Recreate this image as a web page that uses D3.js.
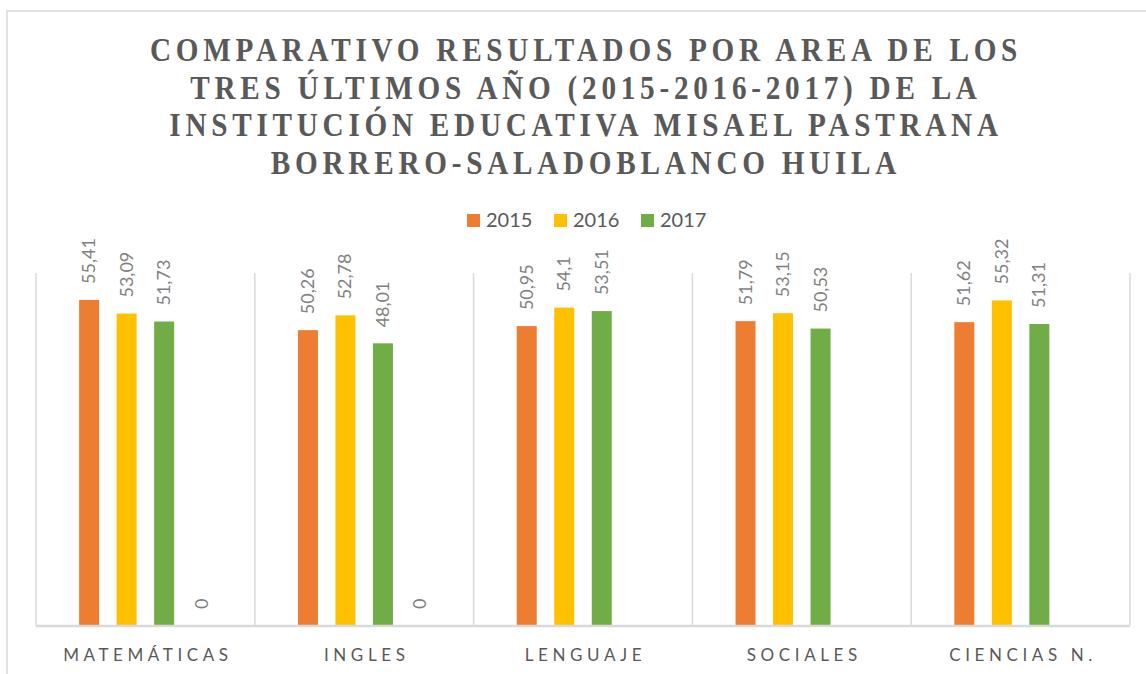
<!DOCTYPE html>
<html lang="es">
<head>
  <meta charset="UTF-8">
  <title>Comparativo resultados por area</title>
  <script src="https://d3js.org/d3.v7.min.js"></script>
  <style>
    body { margin: 0; background: #fff; }
    svg { display: block; }
  </style>
</head>
<body>
  <div id="chart"></div>
  <script>
    // data
    const titleLines = [
      "COMPARATIVO RESULTADOS POR AREA DE LOS",
      "TRES ÚLTIMOS AÑO (2015-2016-2017) DE LA",
      "INSTITUCIÓN EDUCATIVA MISAEL PASTRANA",
      "BORRERO-SALADOBLANCO HUILA"
    ];
    const areas = ["MATEMÁTICAS", "INGLES", "LENGUAJE", "SOCIALES", "CIENCIAS N."];
    const seriesNames = ["2015", "2016", "2017", ""];
    const colors = ["#ED7D31", "#FFC000", "#70AD47", "#5B9BD5"];
    const v2015 = [55.41, 50.26, 50.95, 51.79, 51.62];
    const v2016 = [53.09, 52.78, 54.1, 53.15, 55.32];
    const v2017 = [51.73, 48.01, 53.51, 50.53, 51.31];
    const vBlank = [0, 0, null, null, null];
    const yMax = 60;

    const W = 1146, H = 674;
    const plot = { left: 36, right: 1130, top: 273, bottom: 625 };

    const svg = d3.select("#chart").append("svg").attr("width", W).attr("height", H);
    svg.append("rect").attr("width", W).attr("height", H).attr("fill", "#fff");

    // chart frame (runs past the picture edge on right/bottom)
    svg.append("rect")
      .attr("x", 7).attr("y", 11).attr("width", 1170).attr("height", 700)
      .attr("fill", "none").attr("stroke", "#d9d9d9").attr("stroke-width", 1.5);

    // title
    const title = svg.append("g").attr("transform", "translate(586,0) scale(0.86,1)");
    title.selectAll("text").data(titleLines).enter().append("text")
      .attr("x", 0)
      .attr("y", (d, i) => 61 + i * 37.7)
      .attr("text-anchor", "middle")
      .style("font-family", "'Liberation Serif', 'Times New Roman', serif")
      .style("font-weight", "bold")
      .style("font-size", "34px")
      .style("letter-spacing", "5.5px")
      .attr("fill", "#595959")
      .text(d => d);

    // legend
    const legend = svg.append("g");
    const legendItems = seriesNames.slice(0, 3);
    legendItems.forEach((name, i) => {
      const gx = 467 + i * 87;
      legend.append("rect").attr("x", gx).attr("y", 214).attr("width", 13).attr("height", 13).attr("fill", colors[i]);
      legend.append("text").attr("x", gx + 19).attr("y", 227)
        .style("font-family", "Lato, 'Open Sans', sans-serif").style("font-size", "20px")
        .attr("fill", "#595959").text(name);
    });

    // scales
    const x0 = d3.scaleBand().domain(areas).range([plot.left, plot.right]).padding(0);
    const x1 = d3.scaleBand().domain(seriesNames).range([0, x0.bandwidth()])
      .paddingInner(0.467).paddingOuter(1.15);
    const y = d3.scaleLinear().domain([0, yMax]).range([plot.bottom, plot.top]);

    // category separators
    const bounds = areas.map(a => x0(a)).concat([plot.right]);
    svg.append("g").selectAll("line").data(bounds).enter().append("line")
      .attr("x1", d => d).attr("x2", d => d)
      .attr("y1", plot.top).attr("y2", plot.bottom)
      .attr("stroke", "#d9d9d9").attr("stroke-width", 1.5);

    const seriesValues = [v2015, v2016, v2017, vBlank];
    const rows = [];
    areas.forEach((a, i) => {
      seriesNames.forEach((s, j) => {
        const v = seriesValues[j][i];
        if (v !== null) rows.push({ area: a, key: s, idx: j, value: v });
      });
    });

    // bars
    svg.append("g").selectAll("rect").data(rows).enter().append("rect")
      .attr("x", d => x0(d.area) + x1(d.key))
      .attr("y", d => y(d.value))
      .attr("width", x1.bandwidth())
      .attr("height", d => y(0) - y(d.value))
      .attr("fill", d => colors[d.idx]);

    // data labels, rotated to read upward (matrix = rotate(-90) + translate)
    svg.append("g").selectAll("text").data(rows).enter().append("text")
      .attr("transform", d => {
        const cx = x0(d.area) + x1(d.key) + x1.bandwidth() / 2 + 6;
        const cy = y(d.value) - 16;
        return "matrix(0,-1,1,0," + cx + "," + cy + ")";
      })
      .attr("x", 0).attr("y", 0)
      .attr("text-anchor", "start")
      .style("font-family", "Lato, 'Open Sans', sans-serif")
      .style("font-size", "18px")
      .attr("fill", "#7f7f7f")
      .text(d => String(d.value).replace(".", ","));

    // x axis line
    svg.append("line")
      .attr("x1", plot.left).attr("x2", plot.right)
      .attr("y1", plot.bottom + 1).attr("y2", plot.bottom + 1)
      .attr("stroke", "#d9d9d9").attr("stroke-width", 2.5);

    // category labels
    svg.append("g").selectAll("text").data(areas).enter().append("text")
      .attr("x", d => x0(d) + x0.bandwidth() / 2 + 2.5)
      .attr("y", 661)
      .attr("text-anchor", "middle")
      .style("font-family", "Lato, 'Open Sans', sans-serif")
      .style("font-size", "17px")
      .style("letter-spacing", "4.6px")
      .attr("fill", "#595959")
      .text(d => d);
  </script>
</body>
</html>
